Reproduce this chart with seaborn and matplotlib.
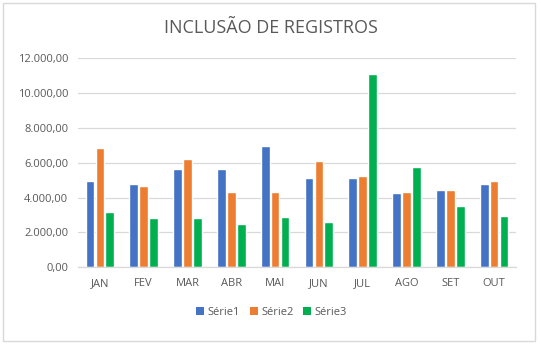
import matplotlib
matplotlib.use("Agg")
import matplotlib.pyplot as plt
from matplotlib.ticker import FuncFormatter, MultipleLocator
from matplotlib.patches import Rectangle, Patch
import seaborn as sns
import pandas as pd

months = ["JAN", "FEV", "MAR", "ABR", "MAI", "JUN", "JUL", "AGO", "SET", "OUT"]
series_names = ["Série1", "Série2", "Série3"]
serie1 = [4940, 4800, 5650, 5650, 6970, 5110, 5110, 4250, 4420, 4800]
serie2 = [6830, 4690, 6200, 4310, 4310, 6090, 5240, 4310, 4420, 4940]
serie3 = [3180, 2850, 2850, 2470, 2910, 2600, 11100, 5740, 3540, 2970]
colors = ["#4472C4", "#ED7D31", "#00B050"]

rows = []
for name, vals in zip(series_names, [serie1, serie2, serie3]):
    for m, v in zip(months, vals):
        rows.append({"mes": m, "valor": v, "serie": name})
df = pd.DataFrame(rows)

sns.set_theme(style="white")
plt.rcParams["font.family"] = ["Open Sans", "DejaVu Sans"]
text_color = "#595959"

fig = plt.figure(figsize=(5.4, 3.44), dpi=100)
ax = fig.add_axes([0.1444, 0.2230, 0.8112, 0.6075])

sns.barplot(data=df, x="mes", y="valor", hue="serie", order=months,
            hue_order=series_names, palette=colors, width=0.68, gap=0.12,
            saturation=1, ax=ax, legend=False, errorbar=None)

ax.set_ylim(0, 12000)
ax.set_xlim(-0.5, len(months) - 0.5)
ax.yaxis.set_major_locator(MultipleLocator(2000))

def br_fmt(v, pos):
    s = f"{v:,.2f}"
    return s.replace(",", "X").replace(".", ",").replace("X", ".")

ax.yaxis.set_major_formatter(FuncFormatter(br_fmt))
ax.grid(axis="y", color="#d9d9d9", linewidth=0.9)
ax.set_axisbelow(True)
for side in ["top", "right", "left"]:
    ax.spines[side].set_visible(False)
ax.spines["bottom"].set_color("#d9d9d9")
ax.spines["bottom"].set_linewidth(0.9)
ax.set_xlabel("")
ax.set_ylabel("")
ax.tick_params(axis="both", length=0, colors=text_color, labelsize=8)
ax.tick_params(axis="y", pad=7)
ax.tick_params(axis="x", pad=8)

fig.text(0.502, 0.918, "INCLUSÃO DE REGISTROS", ha="center", va="center",
         fontsize=13, color=text_color)

handles = [Patch(facecolor=c, edgecolor="none") for c in colors]
fig.legend(handles, series_names, loc="center", bbox_to_anchor=(0.503, 0.093),
           ncol=3, frameon=False, fontsize=8, labelcolor=text_color,
           handlelength=0.7, handleheight=0.7, handletextpad=0.3,
           columnspacing=0.9)

border = Rectangle((0.006, 0.009), 0.984, 0.982, transform=fig.transFigure,
                   fill=False, edgecolor="#d9d9d9", linewidth=1.0)
fig.patches.append(border)

fig.savefig("out.png", dpi=100, facecolor="white")
